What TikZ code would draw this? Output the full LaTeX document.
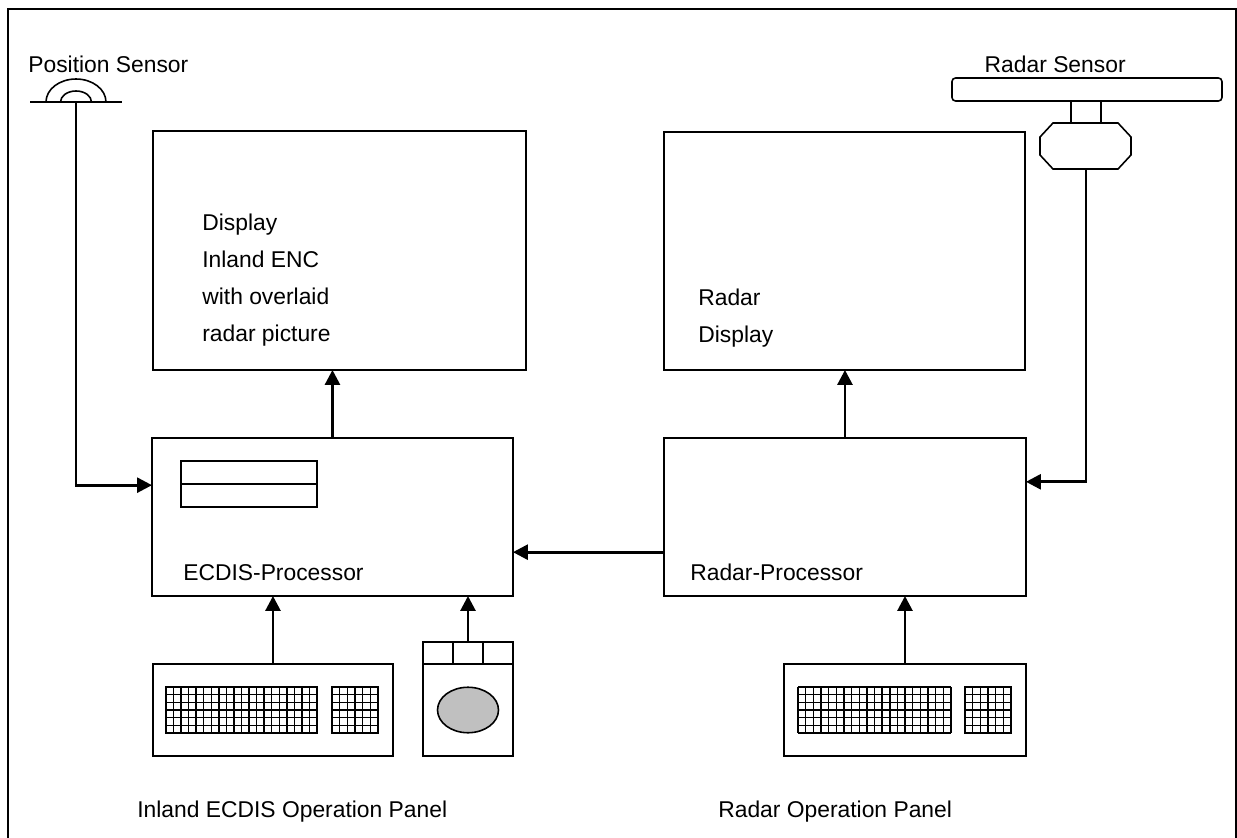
\documentclass[tikz,border=0pt]{standalone}
\usepackage{fontspec}
\setmainfont{Liberation Sans}
\usetikzlibrary{arrows.meta}
\definecolor{ballgray}{RGB}{192,192,192}

\begin{document}
\begin{tikzpicture}[x=0.02cm,y=-0.02cm,
    box/.style={draw, line width=0.9pt, inner sep=0pt, outer sep=0pt, anchor=north west},
    txt/.style={font=\fontsize{13}{15}\selectfont, inner sep=0pt, anchor=base west},
    conn/.style={line width=1.6pt, -{Triangle[length=3mm,width=3mm]}},
    keygrid/.style={line width=0.8pt}]
    \path[use as bounding box] (0,0) rectangle (1237,838);
    % Rahmen
    \draw[line width=0.6pt] (8,838) -- (8,9) -- (1236,9) -- (1236,838);
    % Bildschirme
    \node[box, minimum width=7.46cm, minimum height=4.78cm] (ecdisdisp) at (153,131) {};
    \node[box, minimum width=7.22cm, minimum height=4.76cm] (radardisp) at (664,132) {};
    \foreach \t [count=\k] in {Display, Inland ENC, with overlaid, radar picture}
        \node[txt] (ecdisline\k) at (202,193+\k*37) {\t};
    \node[txt] (radarline1) at (698,305) {Radar};
    \node[txt] (radarline2) at (698,342) {Display};
    % Prozessoren
    \node[box, minimum width=7.22cm, minimum height=3.16cm] (ecdisproc) at (152,438) {};
    \node[box, minimum width=7.24cm, minimum height=3.16cm] (radarproc) at (664,438) {};
    \node[box, minimum width=2.72cm, minimum height=0.92cm] (drive) at (181,461) {};
    \draw[line width=0.9pt] (drive.west) -- (drive.east);
    \node[txt] (ecdisproctext) at (183,580) {ECDIS-Processor};
    \node[txt] (radarproctext) at (690,580) {Radar-Processor};
    % Positionssensor
    \coordinate (posant) at (76,102);
    \draw[line width=0.9pt] (30,102) -- (122,102);
    \draw[line width=0.9pt] (46,102) arc[start angle=180, end angle=0, x radius=0.6cm, y radius=0.46cm];
    \draw[line width=0.9pt] (60.5,102) arc[start angle=180, end angle=0, x radius=0.31cm, y radius=0.22cm];
    \node[txt] (postext) at (28,73) {Position Sensor};
    % Radarsensor
    \node[box, rounded corners=2pt, minimum width=5.4cm, minimum height=0.46cm] (radarbar) at (952,78) {};
    \draw[line width=0.9pt] (1071,101) -- (1071,123);
    \draw[line width=0.9pt] (1101,101) -- (1101,123);
    \draw[line width=0.9pt] (1053,123) -- (1118,123) -- (1131,137) -- (1131,155) -- (1118,169)
        -- (1053,169) -- (1040,155) -- (1040,137) -- cycle;
    \coordinate (scanner) at (1086,169);
    \node[txt, anchor=base east] (radsenstext) at (1126,72) {Radar Sensor};
    % Tastaturen
    \node[box, minimum width=4.8cm, minimum height=1.84cm] (ecdiskbd) at (153,664) {};
    \node[box, minimum width=1.8cm, minimum height=2.28cm] (mouse) at (423,642) {};
    \node[box, minimum width=4.84cm, minimum height=1.84cm] (radarkbd) at (784,664) {};
    \draw[line width=0.9pt] (423,664) -- (513,664);
    \draw[line width=0.9pt] (453,642) -- (453,664);
    \draw[line width=0.9pt] (483,642) -- (483,664);
    \draw[line width=0.9pt, fill=ballgray] (468,710) ellipse[x radius=0.61cm, y radius=0.455cm];
    % Tastenfelder
    \draw[keygrid] \foreach \i in {0,...,20} {(166+\i*7.55,687) -- (166+\i*7.55,733)}
        \foreach \j in {0,...,6} {(166,687+\j*7.667) -- (317,687+\j*7.667)};
    \draw[keygrid] \foreach \i in {0,...,6} {(332+\i*7.667,687) -- (332+\i*7.667,733)}
        \foreach \j in {0,...,6} {(332,687+\j*7.667) -- (378,687+\j*7.667)};
    \draw[keygrid] \foreach \i in {0,...,20} {(798+\i*7.65,687) -- (798+\i*7.65,733)}
        \foreach \j in {0,...,6} {(798,687+\j*7.667) -- (951,687+\j*7.667)};
    \draw[keygrid] \foreach \i in {0,...,6} {(965+\i*7.667,687) -- (965+\i*7.667,733)}
        \foreach \j in {0,...,6} {(965,687+\j*7.667) -- (1011,687+\j*7.667)};
    \draw[line width=1pt] (166,687) rectangle (317,733);
    \draw[line width=1pt] (332,687) rectangle (378,733);
    \draw[line width=1pt] (965,687) rectangle (1011,733);
    \node[txt] (ecdispanel) at (137,817) {Inland ECDIS Operation Panel};
    \node[txt] (radarpanel) at (718,817) {Radar Operation Panel};
    % Verbindungen
    \draw[conn] (ecdisproc.north) -- (ecdisproc.north |- ecdisdisp.south);
    \draw[conn] (radarproc.north) -- (radarproc.north |- radardisp.south);
    \draw[conn] (posant) |- (ecdisproc.170);
    \draw[conn] (scanner) |- (radarproc.11);
    \draw[conn] (radarproc.191) -- (radarproc.191 -| ecdisproc.east);
    \draw[conn] (ecdiskbd.north) -- (ecdiskbd.north |- ecdisproc.south);
    \draw[conn] (mouse.north) -- (mouse.north |- ecdisproc.south);
    \draw[conn] (radarkbd.north) -- (radarkbd.north |- radarproc.south);
\end{tikzpicture}
\end{document}
